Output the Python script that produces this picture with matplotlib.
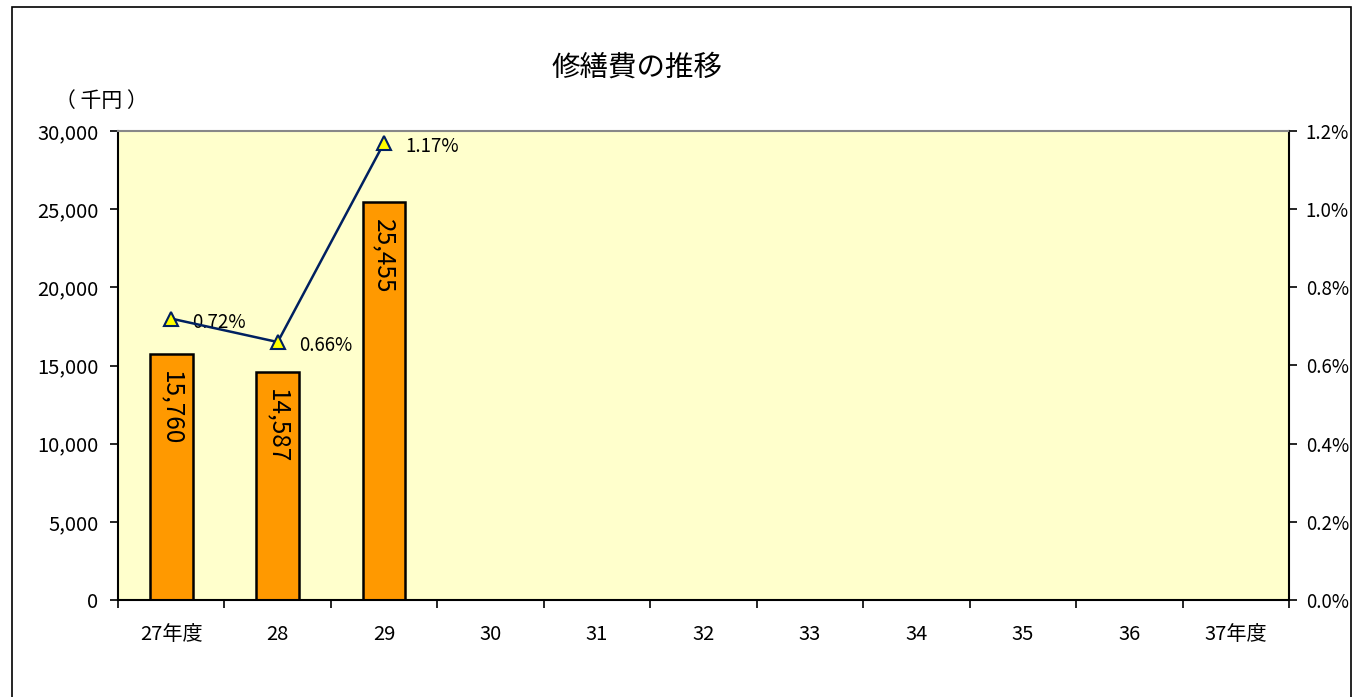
import matplotlib.pyplot as plt
from matplotlib.patches import Rectangle
from matplotlib.ticker import FuncFormatter, MultipleLocator

plt.rcParams['font.family'] = ['Noto Sans CJK JP', 'DejaVu Sans']

years = ['27年度', '28', '29', '30', '31', '32', '33', '34', '35', '36', '37年度']
costs = [15760, 14587, 25455]          # 修繕費（千円）
ratios = [0.72, 0.66, 1.17]            # 比率（%）

fig = plt.figure(figsize=(13.54, 6.97), dpi=100)
ax = fig.add_axes([118 / 1354, 1 - 600 / 697, (1289 - 118) / 1354, (600 - 131) / 697])
ax.set_facecolor('#FFFFCC')

# outer frame of the chart
fig.patches.append(Rectangle((12 / 1354, -0.05), (1351 - 12) / 1354, 1.05 - 7 / 697,
                             transform=fig.transFigure, fill=False,
                             edgecolor='black', linewidth=1.2))

x = list(range(len(years)))
bars = ax.bar(x[:len(costs)], costs, width=0.4, color='#FF9900',
              edgecolor='black', linewidth=1.8, zorder=2)
for xi, v in zip(x, costs):
    ax.text(xi, v - 1100, f'{v:,}', rotation=-90, ha='center', va='top',
            fontsize=17.5, zorder=3)

ax.set_xlim(-0.5, len(years) - 0.5)
ax.set_ylim(0, 30000)
ax.yaxis.set_major_locator(MultipleLocator(5000))
ax.yaxis.set_major_formatter(FuncFormatter(lambda v, p: f'{int(v):,}'))
ax.set_xticks([i - 0.5 for i in range(len(years) + 1)], minor=False)
ax.set_xticklabels([])
ax.set_xticks(x, minor=True)
ax.set_xticklabels(years, minor=True)
ax.tick_params(axis='x', which='minor', length=0, pad=17, labelsize=14.5)
ax.tick_params(axis='x', which='major', length=6, direction='out', width=1.2)
ax.tick_params(axis='y', length=6, direction='out', width=1.2, labelsize=14.5, pad=8)

for side in ['left', 'right', 'bottom']:
    ax.spines[side].set_linewidth(1.5)
ax.spines['top'].set_color('#888888')
ax.spines['top'].set_linewidth(1.5)

ax2 = ax.twinx()
ax2.plot(x[:len(ratios)], ratios, color='#002060', linewidth=1.8,
         marker='^', markersize=10, markerfacecolor='#FFFF00',
         markeredgecolor='#002060', markeredgewidth=1.5, zorder=4)
for xi, r in zip(x, ratios):
    ax2.text(xi + 0.2, r - 0.01, f'{r:.2f}%', ha='left', va='center', fontsize=13.5)
ax2.set_ylim(0, 1.2)
ax2.yaxis.set_major_locator(MultipleLocator(0.2))
ax2.yaxis.set_major_formatter(FuncFormatter(lambda v, p: f'{v:.1f}%'))
ax2.tick_params(axis='y', length=6, direction='out', width=1.2, labelsize=13.5, pad=6)
for side in ['left', 'right', 'bottom', 'top']:
    ax2.spines[side].set_visible(False)

fig.text(637 / 1354, 1 - 68 / 697, '修繕費の推移', ha='center', va='center', fontsize=20.5)
fig.text(101 / 1354, 1 - 101 / 697, '（ 千円 ）', ha='center', va='center', fontsize=15)

fig.savefig('out.png', dpi=100)
